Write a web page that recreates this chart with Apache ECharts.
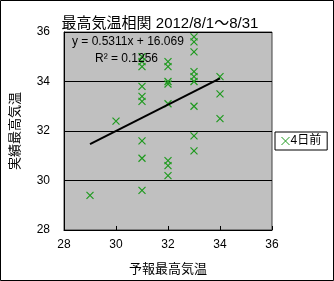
<!DOCTYPE html>
<html>
<head>
<meta charset="utf-8">
<script src="https://cdn.jsdelivr.net/npm/echarts@6/dist/echarts.min.js"></script>
<style>
html,body{margin:0;padding:0;background:#fff;}
#c{width:334px;height:281px;}
</style>
</head>
<body>
<div id="c"></div>
<script>
// Data
const forecast = [29, 30,
  31, 31, 31, 31, 31, 31, 31, 31, 31,
  32, 32, 32, 32, 32, 32, 32, 32,
  33, 33, 33, 33, 33, 33, 33, 33, 33,
  34, 34, 34];
const actual = [29.4, 32.4,
  35.0, 34.8, 34.6, 33.8, 33.4, 33.2, 31.6, 30.9, 29.6,
  34.8, 34.6, 34.0, 33.9, 33.1, 30.8, 30.6, 30.2,
  35.8, 35.6, 35.2, 34.4, 34.2, 34.0, 33.0, 31.8, 31.2,
  34.2, 33.5, 32.5];
const seriesName = '4日前';
const slope = 0.5311;
const intercept = 16.069;
const r2 = 0.1256;
const axisTicks = [28, 30, 32, 34, 36];

const FONT = '"Liberation Sans", "Noto Sans CJK JP", sans-serif';
const points = forecast.map((x, i) => [x, actual[i]]);
const xMin = Math.min(...forecast), xMax = Math.max(...forecast);
const trend = [[xMin, slope * xMin + intercept], [xMax, slope * xMax + intercept]];
const green = '#1f9a1f';
const xPath = 'path://M0,0L10,10M10,0L0,10';

const chart = echarts.init(document.getElementById('c'), null, {renderer: 'canvas'});
chart.setOption({
  animation: false,
  backgroundColor: '#fff',
  textStyle: {fontFamily: FONT},
  title: {
    text: '最高気温相関 2012/8/1～8/31',
    left: 155, top: 11, textAlign: 'center',
    textStyle: {fontSize: 15, fontWeight: 'normal', color: '#000', fontFamily: FONT}
  },
  grid: {left: 64, top: 32, width: 208, height: 200, show: true,
    backgroundColor: '#c0c0c0', borderColor: '#404040', borderWidth: 1},
  xAxis: {
    type: 'value', min: axisTicks[0], max: axisTicks[axisTicks.length - 1], interval: 2,
    name: '予報最高気温', nameLocation: 'middle', nameGap: 33,
    nameTextStyle: {fontSize: 13, color: '#000', fontFamily: FONT},
    axisLine: {lineStyle: {color: '#000', width: 1}},
    axisTick: {inside: true, length: 4, lineStyle: {color: '#000'}},
    axisLabel: {fontSize: 12, color: '#000', margin: 9, fontFamily: FONT},
    splitLine: {show: false}
  },
  yAxis: {
    type: 'value', min: axisTicks[0], max: axisTicks[axisTicks.length - 1], interval: 2,
    name: '実績最高気温', nameLocation: 'middle', nameGap: 42,
    nameTextStyle: {fontSize: 13, color: '#000', fontFamily: FONT},
    axisLine: {show: true, lineStyle: {color: '#000', width: 1}},
    axisTick: {show: true, inside: true, length: 4, lineStyle: {color: '#000'}},
    axisLabel: {fontSize: 12, color: '#000', margin: 14, fontFamily: FONT},
    splitLine: {show: true, lineStyle: {color: '#000', width: 1}}
  },
  legend: {
    left: 275, top: 132, orient: 'vertical',
    padding: [3, 6, 3, 6],
    borderColor: '#000', borderWidth: 1, backgroundColor: '#fff', borderRadius: 0,
    itemWidth: 8, itemHeight: 8, itemGap: 2,
    textStyle: {fontSize: 12, color: '#000', padding: [0, 0, 0, -4], fontFamily: FONT},
    data: [{name: seriesName, icon: xPath, itemStyle: {color: 'rgba(0,0,0,0)', borderColor: green, borderWidth: 1}}]
  },
  series: [
    {
      name: seriesName, type: 'scatter', data: points,
      symbol: xPath, symbolSize: 7,
      itemStyle: {color: 'rgba(0,0,0,0)', borderColor: green, borderWidth: 1.2, opacity: 1},
      z: 3
    },
    {
      name: 'trend', type: 'line', data: trend, symbol: 'none',
      lineStyle: {color: '#000', width: 2}, z: 4, silent: true
    }
  ],
  graphic: [
    {type: 'rect', shape: {x: 0.5, y: 0.5, width: 333, height: 280}, style: {fill: 'none', stroke: '#000', lineWidth: 1}, z: 100},
    {type: 'text', left: 72, top: 36, z: 100, style: {text: 'y = ' + slope + 'x + ' + intercept.toFixed(3), fontSize: 12, fill: '#000', font: '12px ' + FONT}},
    {type: 'text', left: 95, top: 53, z: 100, style: {text: 'R² = ' + r2, fontSize: 12, fill: '#000', font: '12px ' + FONT}}
  ]
});
</script>
</body>
</html>
